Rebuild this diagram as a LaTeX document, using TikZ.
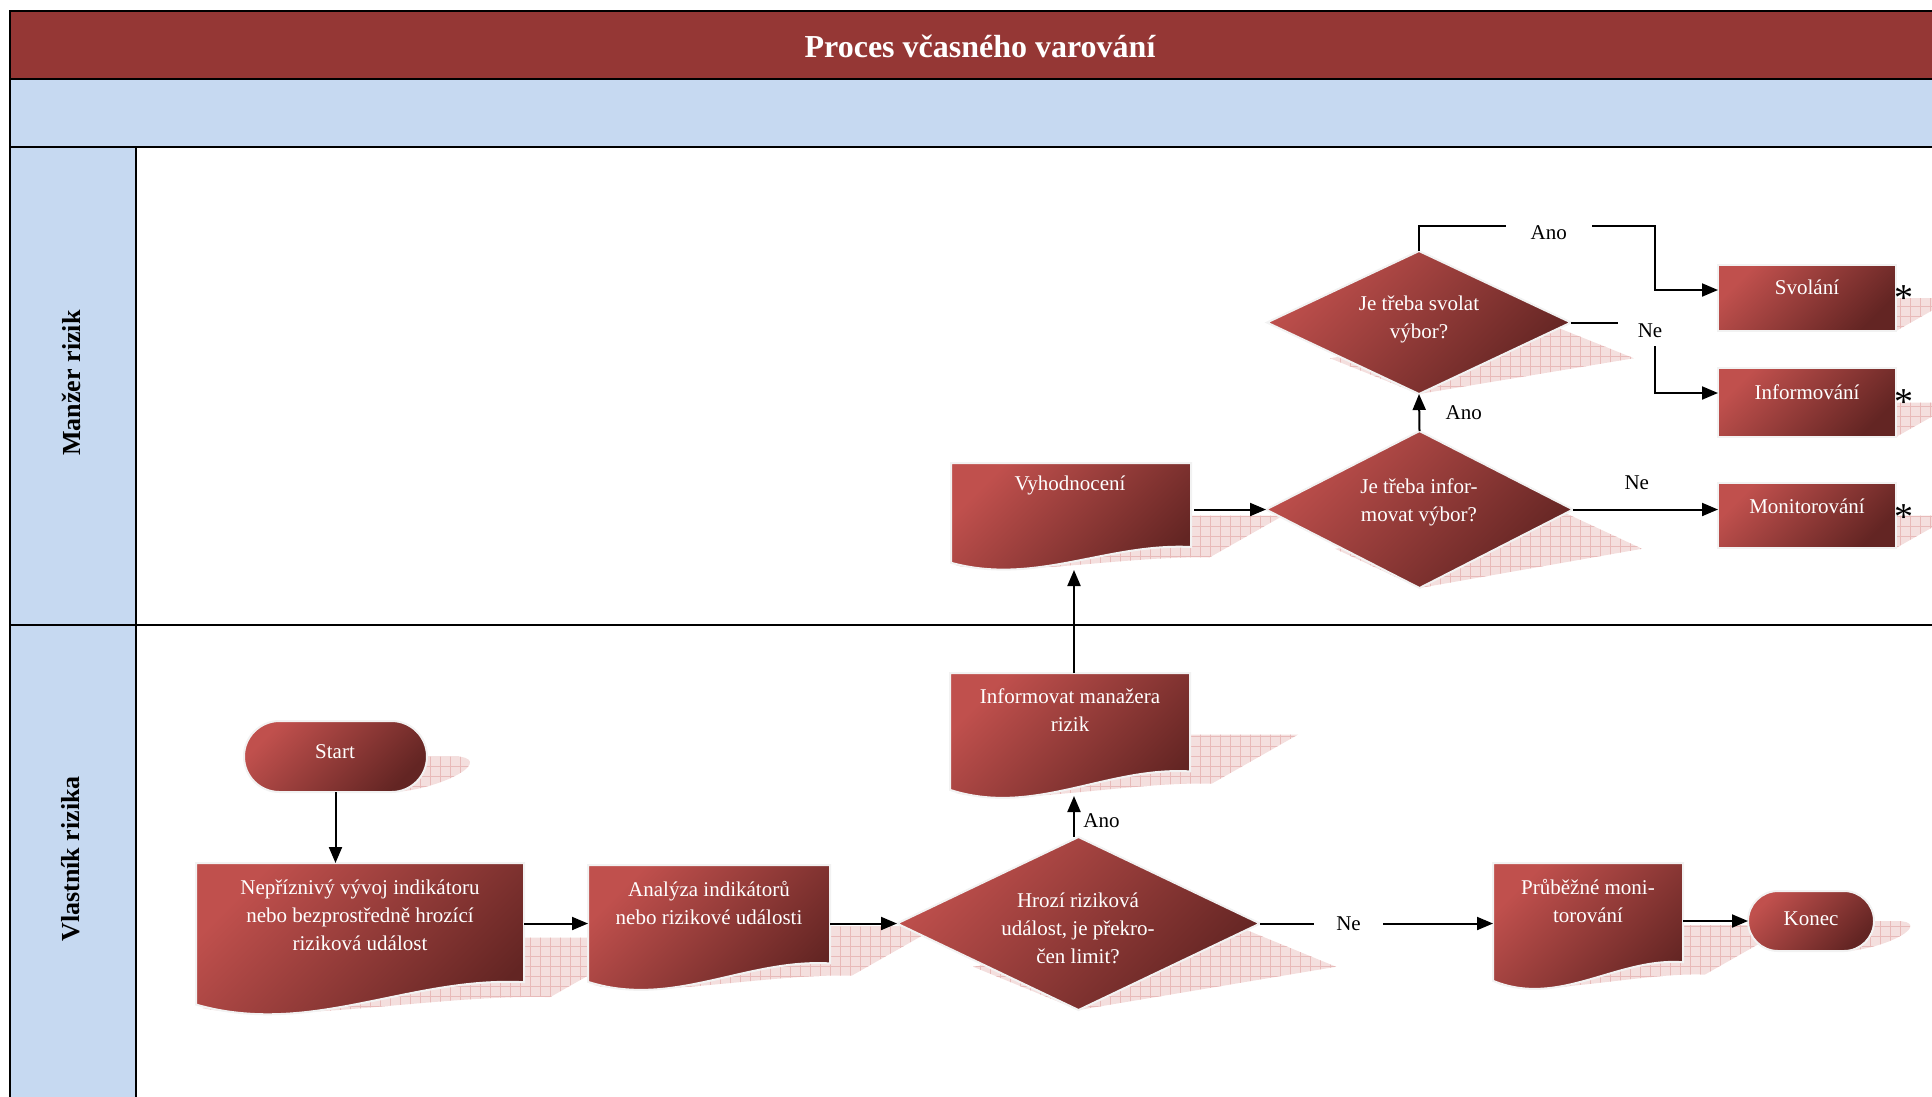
\documentclass[tikz,border=0pt]{standalone}
\usepackage{fontspec}
\setmainfont{Liberation Serif}
\usetikzlibrary{arrows.meta,patterns.meta,calc}

\definecolor{titlered}{RGB}{149,55,53}
\definecolor{laneblue}{RGB}{198,217,241}
\definecolor{shlight}{RGB}{192,80,77}
\definecolor{shdark}{RGB}{99,37,35}
\definecolor{outl}{RGB}{242,242,242}
\definecolor{shpink}{RGB}{244,223,222}
\definecolor{gridpink}{RGB}{232,186,185}

% shape paths: #1 options, #2 x0, #3 y0, #4 x1, #5 y1
\newcommand\docS[5]{\path[#1] (#2,#3) -- (#4,#3) -- (#4,{#5-0.2*(#5-#3)})
  .. controls ({#4-0.35*(#4-#2)},{#5-0.24*(#5-#3)}) and ({#2+0.35*(#4-#2)},{#5+0.17*(#5-#3)}) ..
  (#2,{#5-0.05*(#5-#3)}) -- cycle;}
\newcommand\diaS[5]{\path[#1] ({(#2+#4)/2},#3) -- (#4,{(#3+#5)/2}) -- ({(#2+#4)/2},#5) -- (#2,{(#3+#5)/2}) -- cycle;}
\newcommand\recS[5]{\path[#1] (#2,#3) rectangle (#4,#5);}
\newcommand\staS[5]{%
  \pgfmathsetmacro\stR{(#5-#3)/2}\pgfmathsetmacro\stC{(#5+#3)/2}\pgfmathsetmacro\stK{0.5523*\stR}%
  \path[#1] ({#2+\stR},#3) -- ({#4-\stR},#3)
   .. controls ({#4-\stR+\stK},#3) and (#4,{\stC-\stK}) .. (#4,\stC)
   .. controls (#4,{\stC+\stK}) and ({#4-\stR+\stK},#5) .. ({#4-\stR},#5)
   -- ({#2+\stR},#5)
   .. controls ({#2+\stR-\stK},#5) and (#2,{\stC+\stK}) .. (#2,\stC)
   .. controls (#2,{\stC-\stK}) and ({#2+\stR-\stK},#3) .. ({#2+\stR},#3) -- cycle;}
% perspective shadow below a shape whose bottom is at y = #1
\newcommand\shd[2]{\begin{scope}[cm={1,0,0.88,0.5,({0.88*#1},{0.5*#1})}]#2\end{scope}}

\begin{document}
\begin{tikzpicture}[x=1pt,y=-1pt,
  shp/.style={shade, top color=shlight, bottom color=shdark, shading angle=45, draw=outl, line width=2pt},
  shdw/.style={fill=shpink,
    postaction={pattern={Lines[distance=10pt,angle=0,line width=0.8pt]}, pattern color=gridpink},
    postaction={pattern={Lines[distance=10pt,angle=90,line width=0.8pt]}, pattern color=gridpink}},
  hit/.style={inner sep=0pt, outer sep=0pt, rectangle},
  txt/.style={text=white, font=\fontsize{21}{28}\selectfont, align=center, inner sep=0pt},
  lbl/.style={text=black, font=\fontsize{21}{28}\selectfont},
  arr/.style={line width=2pt, -{Triangle[length=16pt,width=13pt]}},
  ln/.style={line width=2pt},
  titletxt/.style={text=white, font=\fontsize{32}{36}\selectfont\bfseries},
  lanetxt/.style={text=black, rotate=90, font=\fontsize{26}{30}\selectfont\bfseries},
  asttxt/.style={text=black, font=\fontsize{38}{38}\selectfont, inner sep=0pt}
]
\useasboundingbox (0,0) rectangle (1932,1096);
\clip (0,0) rectangle (1932,1096);

% ---- frame and lanes
\fill[titlered] (10,11) rectangle (1960,79);
\fill[laneblue] (10,79) rectangle (1960,147);
\fill[laneblue] (10,147) rectangle (136,1110);
\draw[line width=2.5pt] (1960,11) -- (10,11) -- (10,1110);
\draw[line width=2.5pt] (10,79) -- (1960,79);
\draw[line width=2.5pt] (10,147) -- (1960,147);
\draw[line width=2pt] (136,147) -- (136,1110);
\draw[line width=1.3pt] (10,625) -- (1960,625);
\node[titletxt] (title) at (980,46) {Proces včasného varování};
\node[lanetxt] (lane1) at (71,383) {Manžer rizik};
\node[lanetxt] (lane2) at (71,859) {Vlastník rizika};

% ---- shadows
\shd{792}{\staS{shdw}{244}{721}{427}{792}}
\shd{1012}{\docS{shdw}{196}{863}{524}{1012}}
\shd{988}{\docS{shdw}{588}{865}{830}{988}}
\shd{1010}{\diaS{shdw}{897}{837}{1260}{1010}}
\shd{987}{\docS{shdw}{1493}{863}{1683}{987}}
\shd{951}{\staS{shdw}{1748}{891}{1874}{951}}
\shd{796}{\docS{shdw}{950}{673}{1190}{796}}
\shd{568}{\docS{shdw}{951}{463}{1191}{568}}
\shd{588}{\diaS{shdw}{1266}{431}{1573}{588}}
\shd{394}{\diaS{shdw}{1267}{251}{1571}{394}}
\shd{331}{\recS{shdw}{1718}{265}{1896}{331}}
\shd{437}{\recS{shdw}{1718}{368}{1896}{437}}
\shd{548}{\recS{shdw}{1718}{483}{1896}{548}}

% ---- shapes
\staS{shp}{244}{721}{427}{792}
\docS{shp}{196}{863}{524}{1012}
\docS{shp}{588}{865}{830}{988}
\diaS{shp}{897}{837}{1260}{1010}
\docS{shp}{1493}{863}{1683}{987}
\staS{shp}{1748}{891}{1874}{951}
\docS{shp}{950}{673}{1190}{796}
\docS{shp}{951}{463}{1191}{568}
\diaS{shp}{1266}{431}{1573}{588}
\diaS{shp}{1267}{251}{1571}{394}
\recS{shp}{1718}{265}{1896}{331}
\recS{shp}{1718}{368}{1896}{437}
\recS{shp}{1718}{483}{1896}{548}

% ---- named nodes (outlines of the shapes)
\node[hit, minimum width=183pt, minimum height=71pt] (start) at (335.5,756.5) {};
\node[hit, minimum width=328pt, minimum height=149pt] (nep) at (360,937.5) {};
\node[hit, minimum width=242pt, minimum height=123pt] (anal) at (709,926.5) {};
\node[hit, minimum width=363pt, minimum height=173pt] (d1) at (1078.5,923.5) {};
\node[hit, minimum width=190pt, minimum height=124pt] (prub) at (1588,925) {};
\node[hit, minimum width=126pt, minimum height=60pt] (konec) at (1811,921) {};
\node[hit, minimum width=240pt, minimum height=123pt] (inf) at (1074,734.5) {};
\node[hit, minimum width=240pt, minimum height=107pt] (vyh) at (1074,516.5) {};
\node[hit, minimum width=307pt, minimum height=157pt] (d2) at (1419.5,509.5) {};
\node[hit, minimum width=304pt, minimum height=143pt] (d3) at (1419,322.5) {};
\node[hit, minimum width=178pt, minimum height=66pt] (sv) at (1807,298) {};
\node[hit, minimum width=178pt, minimum height=69pt] (inf2) at (1807,402.5) {};
\node[hit, minimum width=178pt, minimum height=65pt] (mon) at (1807,515.5) {};

% ---- texts
\node[txt] (starttxt) at (335,752) {Start};
\node[txt] (neptxt) at (360,915) {Nepříznivý vývoj indikátoru\\nebo bezprostředně hrozící\\riziková událost};
\node[txt] (analtxt) at (709,903) {Analýza indikátorů\\nebo rizikové události};
\node[txt] (d1txt) at (1078,928) {Hrozí riziková\\událost, je překro-\\čen limit?};
\node[txt] (prubtxt) at (1588,901) {Průběžné moni-\\torování};
\node[txt] (konectxt) at (1811,919) {Konec};
\node[txt] (inftxt) at (1070,710) {Informovat manažera\\rizik};
\node[txt] (vyhtxt) at (1070,485) {Vyhodnocení};
\node[txt] (d2txt) at (1419,502) {Je třeba infor-\\movat výbor?};
\node[txt] (d3txt) at (1419,319) {Je třeba svolat\\výbor?};
\node[txt] (svtxt) at (1807,287) {Svolání};
\node[txt] (inf2txt) at (1807,392) {Informování};
\node[txt] (montxt) at (1807,506) {Monitorování};
\node[asttxt] (ast1) at (1904,298) {*};
\node[asttxt] (ast2) at (1904,402) {*};
\node[asttxt] (ast3) at (1904,517) {*};

% ---- connectors
\draw[arr] (start.south) -- (start.south |- nep.north);
\draw[arr] (nep.east |- d1.west) -- (anal.west |- d1.west);
\draw[arr] (anal.east |- d1.west) -- (d1.west);
\draw[arr] (d1.east) -- (prub.west |- d1.east)
  node[lbl, pos=0.38, fill=white, inner xsep=22pt] (ne1) {Ne};
\draw[arr] (prub.east |- konec.west) -- (konec.west);
\draw[arr] (inf.south |- d1.north) -- (inf.south)
  node[lbl, pos=0.4, right=5pt] (ano1) {Ano};
\draw[arr] (inf.north) -- (vyh.south);
\draw[arr] (vyh.east |- d2.west) -- (d2.west);
\draw[arr] (d2.east) -- (d2.east -| mon.west)
  node[lbl, pos=0.44, above=15pt] (ne2) {Ne};
\draw[arr] (d2.north) -- (d3.south)
  node[lbl, midway, right=22pt] (ano2) {Ano};
\draw[arr] (d3.north) |- (1655,226)
  node[lbl, pos=0.775, yshift=-7pt, fill=white, inner xsep=25pt, inner ysep=3pt] (ano3) {Ano}
  |- ($(sv.west)+(0,-8)$);
\draw[arr] (d3.east) -| (1655,393)
  node[lbl, pos=0.5, xshift=-5pt, yshift=-8pt, fill=white, inner xsep=20pt, inner ysep=9pt] (ne3) {Ne}
  -- ($(inf2.west)+(0,-9.5)$);
\end{tikzpicture}
\end{document}
